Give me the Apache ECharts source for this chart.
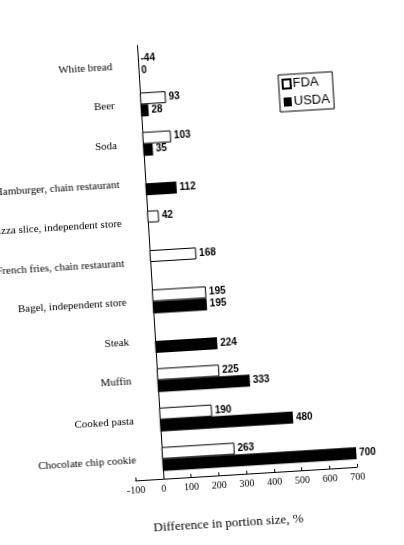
<!DOCTYPE html>
<html>
<head>
<meta charset="utf-8">
<script src="https://cdn.jsdelivr.net/npm/echarts@6/dist/echarts.min.js"></script>
<style>
  html, body { margin: 0; padding: 0; background: #fff; overflow: hidden; }
  #chart { width: 404px; height: 545px; transform: rotate(-3.5deg); transform-origin: 50% 50%; }
</style>
</head>
<body>
<div id="chart"></div>
<script>
var categories = ["White bread", "Beer", "Soda", "Hamburger, chain restaurant",
  "Pizza slice, independent store", "French fries, chain restaurant",
  "Bagel, independent store", "Steak", "Muffin", "Cooked pasta", "Chocolate chip cookie"];
var fdaValues = [-44, 93, 103, null, 42, 168, 195, null, 225, 190, 263];
var usdaValues = [0, 28, 35, 112, null, null, 195, 224, 333, 480, 700];

var chart = echarts.init(document.getElementById("chart"));

var labelStyle = {
  show: true,
  position: "right",
  distance: 3,
  color: "#000",
  fontFamily: "Liberation Sans",
  fontWeight: "bold",
  fontSize: 10
};

// the white bread FDA value has no visible bar in the original
var fdaData = fdaValues.map(function (v) {
  if (v !== null && v < 0) {
    return { value: v, itemStyle: { color: "transparent", borderWidth: 0 } };
  }
  return v;
});

chart.setOption({
  animation: false,
  backgroundColor: "#ffffff",
  title: {
    text: "Difference in portion size, %",
    left: 133,
    top: 513,
    textStyle: {
      fontFamily: "Liberation Serif",
      fontWeight: "normal",
      fontSize: 13,
      color: "#000"
    }
  },
  legend: {
    orient: "vertical",
    left: 290,
    top: 80,
    icon: "rect",
    itemWidth: 8,
    itemHeight: 9,
    itemGap: 5,
    padding: [3, 4, 3, 3],
    borderColor: "#000",
    borderWidth: 1,
    textStyle: {
      fontFamily: "Liberation Sans",
      fontSize: 13,
      color: "#000",
      padding: [0, 0, 0, -3]
    },
    data: ["FDA", "USDA"]
  },
  grid: {
    left: 123,
    right: 59,
    top: 42,
    bottom: 69,
    containLabel: false,
    outerBoundsMode: "none"
  },
  xAxis: {
    type: "value",
    min: -100,
    max: 700,
    interval: 100,
    axisLine: { show: true, lineStyle: { color: "#000", width: 1 } },
    axisTick: { show: true, inside: true, length: 3, lineStyle: { color: "#000" } },
    splitLine: { show: false },
    axisLabel: {
      margin: 5,
      color: "#000",
      fontFamily: "Liberation Serif",
      fontSize: 10
    }
  },
  yAxis: {
    type: "category",
    inverse: true,
    data: categories,
    axisLine: { show: true, onZero: true, lineStyle: { color: "#000", width: 1 } },
    axisTick: { show: false },
    axisLabel: {
      margin: -2,
      color: "#000",
      fontFamily: "Liberation Serif",
      fontSize: 11
    }
  },
  series: [
    {
      name: "FDA",
      type: "bar",
      data: fdaData,
      barWidth: 12,
      barGap: "0%",
      itemStyle: { color: "#ffffff", borderColor: "#000", borderWidth: 1 },
      label: labelStyle
    },
    {
      name: "USDA",
      type: "bar",
      data: usdaValues,
      barWidth: 12,
      barGap: "0%",
      itemStyle: { color: "#000" },
      label: labelStyle
    }
  ]
});
</script>
</body>
</html>
